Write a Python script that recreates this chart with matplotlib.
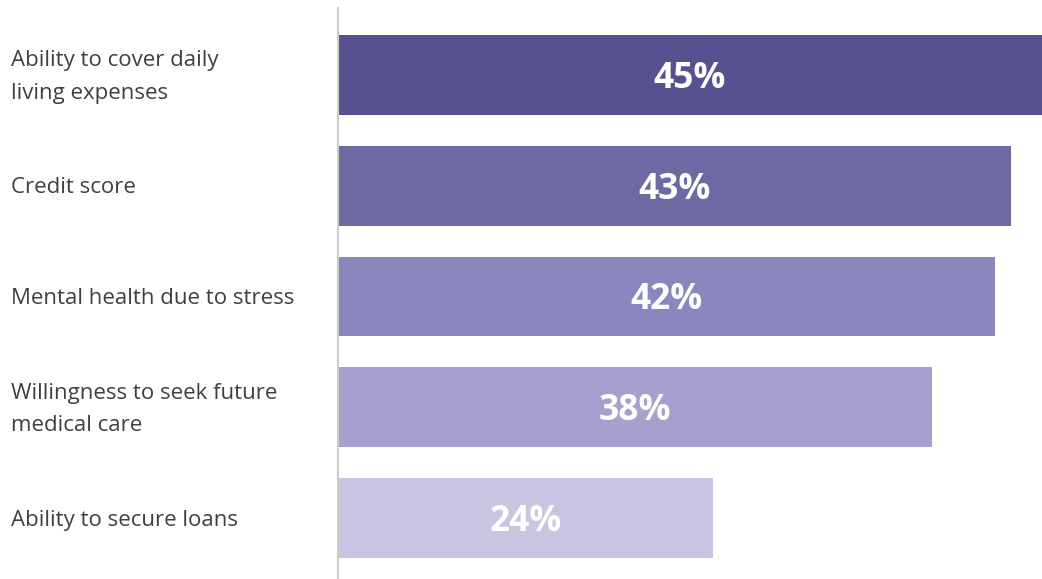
import matplotlib
matplotlib.use("Agg")
import matplotlib.pyplot as plt

categories = [
    "Ability to cover daily\nliving expenses",
    "Credit score",
    "Mental health due to stress",
    "Willingness to seek future\nmedical care",
    "Ability to secure loans",
]
values = [45, 43, 42, 38, 24]
bar_colors = ["#575091", "#6C69A3", "#8A86BE", "#A5A0CE", "#C8C5E3"]

W, H = 1042, 579
fig = plt.figure(figsize=(W / 100, H / 100), dpi=100)
ax = fig.add_axes([338 / W, 0, 1 - 338 / W, 1 - 8 / H])

pos = list(range(len(categories)))
ax.barh(pos, values, height=0.722, color=bar_colors, edgecolor="none")

ax.set_xlim(0, 45)
ax.set_ylim(4.551, -0.605)

for p, v in zip(pos, values):
    ax.text(v / 2, p + 0.035, f"{v}%", ha="center", va="center", color="white",
            fontsize=25.5, fontweight="bold", family="Open Sans")

for p, c in zip(pos, categories):
    ax.text(-327 / 704 * 45, p + 0.02, c, ha="left", va="center", color="#404040",
            fontsize=16, family="Open Sans", linespacing=1.72, clip_on=False)

for s in ["top", "right", "bottom"]:
    ax.spines[s].set_visible(False)
ax.spines["left"].set_color("#CCCCCC")
ax.spines["left"].set_linewidth(1.5)
ax.set_xticks([])
ax.set_yticks([])

fig.savefig("out.png", dpi=100)
